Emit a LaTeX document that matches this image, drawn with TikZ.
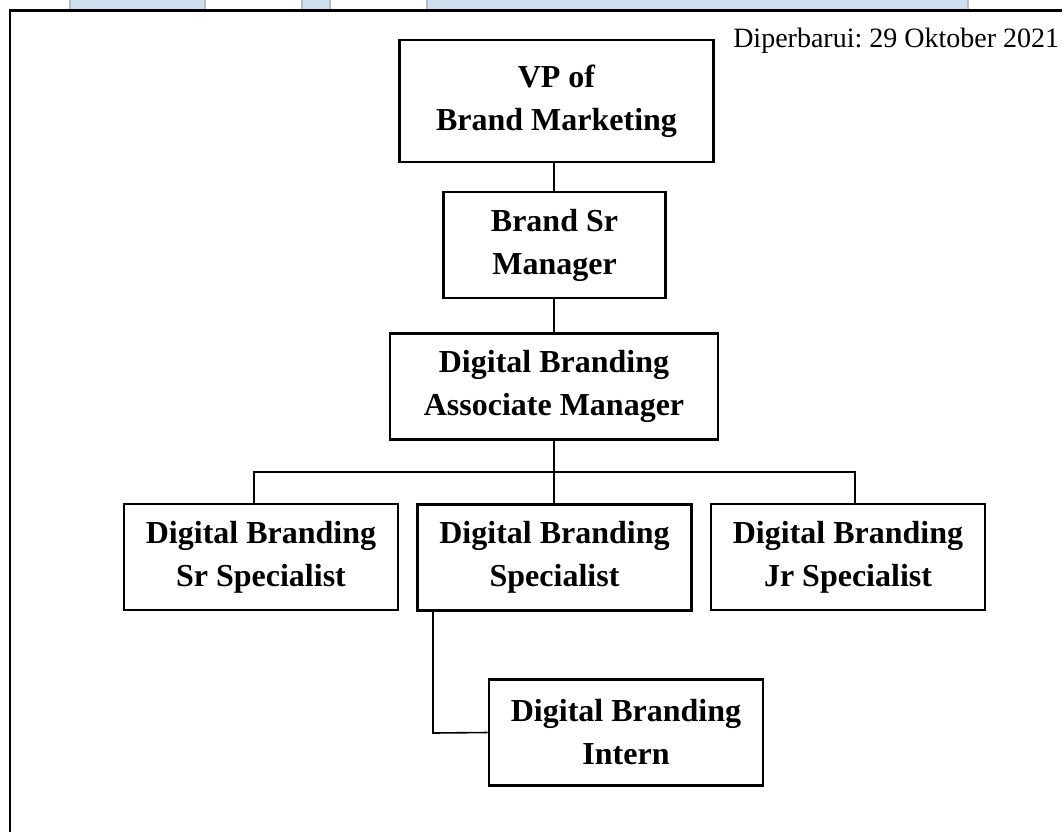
\documentclass[tikz,border=0pt]{standalone}
\usepackage{fontspec}
\setmainfont{Liberation Serif}
\usetikzlibrary{positioning}
\definecolor{cHead}{HTML}{CDDFEF}
\definecolor{cHeadEdge}{HTML}{B4BEC8}
\frenchspacing

\begin{document}
\begin{tikzpicture}[x=0.75pt, y=-0.75pt,
    post/.style={draw, line width=2.1pt, align=center, inner sep=0pt,
      font=\fontsize{24}{32.25}\selectfont\bfseries,
      minimum width=205.5pt, minimum height=79.5pt},
    link/.style={line width=1.2pt}]
    \useasboundingbox (0,0) rectangle (1062,832);
    % --- table header strip + frame ----------------------------------
    \foreach \a/\b in {70/205,302/330,427/968}{
      \fill[cHead] (\a,0) rectangle (\b,9);
      \draw[cHeadEdge,line width=0.8pt] (\a,0) -- (\a,9) (\b,0) -- (\b,9);
    }
    \draw[line width=2pt] (10,832) -- (10,10.5) -- (1062,10.5);
    \node[anchor=base west,inner sep=0pt,font=\fontsize{21}{24}\selectfont] (upd) at (733,47)
      {Diperbarui: 29 Oktober 2021};

    % --- posts --------------------------------------------------------
    \node[post, minimum width=235pt, minimum height=91.5pt] (vp) at (556.5,101) {VP of\\Brand Marketing};
    \node[post, minimum width=167pt] (bsm) at (554.5,245) {Brand Sr\\Manager};
    \node[post, minimum width=246pt, minimum height=80pt] (dbam) at (554,386.5) {Digital Branding\\Associate Manager};
    \node[post] (sr) at (261,557) {Digital Branding\\Sr Specialist};
    \node[post] (sp) at (554.5,557.5) {Digital Branding\\Specialist};
    \node[post] (jr) at (848,557) {Digital Branding\\Jr Specialist};
    \node[post, minimum height=80pt] (intern) at (626,732.5) {Digital Branding\\Intern};

    % --- lines --------------------------------------------------------
    \coordinate (bus) at (554,472);
    \coordinate (busL) at (254,472);
    \coordinate (busR) at (855,472);
    \coordinate (elbow) at (433,733);
    \draw[link] (vp.south -| bus) -- (bsm.north -| bus);
    \draw[link] (bsm.south -| bus) -- (dbam.north -| bus);
    \draw[link] (dbam.south -| bus) -- (bus) -- (bus |- sp.north);
    \draw[link] (busL |- sr.north) -- (busL) -- (busR) -- (busR |- jr.north);
    \draw[link] (elbow |- sp.south) -- (elbow) -- (intern.west);
  \end{tikzpicture}
\end{document}
